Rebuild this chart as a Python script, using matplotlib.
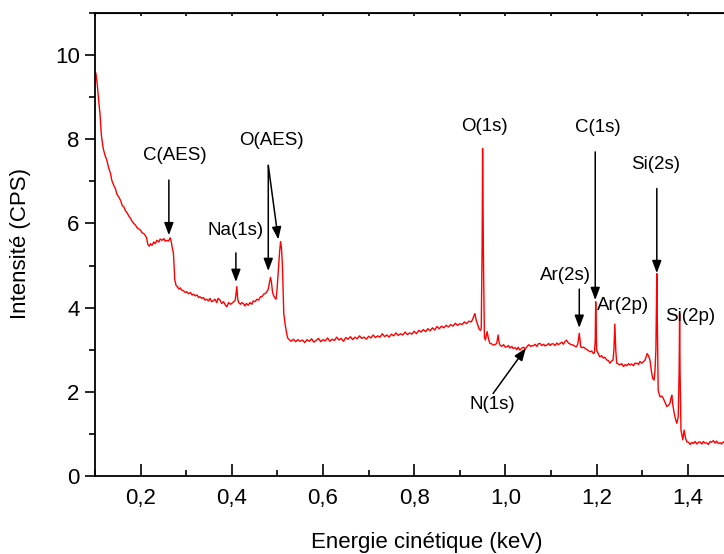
import matplotlib
matplotlib.use("Agg")
import matplotlib.pyplot as plt
from matplotlib.ticker import MultipleLocator

plt.rcParams['font.family'] = ['Liberation Sans', 'DejaVu Sans']

# spectre (keV, CPS)
energie = [
    0.102, 0.105, 0.108, 0.111, 0.114, 0.117, 0.119, 0.122, 0.126, 0.130,
    0.134, 0.137, 0.141, 0.145, 0.148, 0.152, 0.156, 0.160, 0.163, 0.167,
    0.170, 0.174, 0.178, 0.181, 0.185, 0.189, 0.192, 0.196, 0.200, 0.203,
    0.207, 0.210, 0.213, 0.216, 0.219, 0.222, 0.225, 0.229, 0.232, 0.236,
    0.240, 0.243, 0.247, 0.251, 0.254, 0.258, 0.261, 0.265, 0.267, 0.269,
    0.272, 0.275, 0.278, 0.281, 0.284, 0.287, 0.290, 0.294, 0.298, 0.301,
    0.305, 0.309, 0.313, 0.316, 0.320, 0.324, 0.327, 0.330, 0.334, 0.338,
    0.341, 0.345, 0.349, 0.352, 0.356, 0.359, 0.363, 0.367, 0.370, 0.374,
    0.378, 0.382, 0.386, 0.389, 0.393, 0.397, 0.400, 0.404, 0.407, 0.409,
    0.411, 0.413, 0.415, 0.419, 0.422, 0.425, 0.429, 0.432, 0.436, 0.440,
    0.444, 0.447, 0.451, 0.455, 0.459, 0.463, 0.466, 0.470, 0.474, 0.477,
    0.480, 0.483, 0.485, 0.487, 0.489, 0.491, 0.494, 0.497, 0.499, 0.502,
    0.505, 0.507, 0.509, 0.511, 0.512, 0.514, 0.517, 0.519, 0.521, 0.523,
    0.526, 0.530, 0.535, 0.540, 0.545, 0.550, 0.555, 0.560, 0.565, 0.570,
    0.575, 0.580, 0.585, 0.590, 0.595, 0.600, 0.605, 0.610, 0.615, 0.620,
    0.625, 0.630, 0.635, 0.640, 0.645, 0.650, 0.655, 0.660, 0.665, 0.670,
    0.675, 0.680, 0.685, 0.690, 0.695, 0.700, 0.705, 0.710, 0.715, 0.720,
    0.725, 0.730, 0.735, 0.740, 0.745, 0.750, 0.755, 0.760, 0.765, 0.770,
    0.775, 0.780, 0.785, 0.790, 0.795, 0.800, 0.805, 0.810, 0.815, 0.820,
    0.825, 0.830, 0.835, 0.840, 0.845, 0.850, 0.855, 0.860, 0.865, 0.870,
    0.875, 0.880, 0.885, 0.890, 0.895, 0.900, 0.905, 0.910, 0.915, 0.920,
    0.925, 0.928, 0.931, 0.933, 0.936, 0.939, 0.942, 0.945, 0.947, 0.949,
    0.950, 0.952, 0.954, 0.956, 0.960, 0.963, 0.966, 0.970, 0.973, 0.977,
    0.981, 0.984, 0.986, 0.988, 0.992, 0.996, 1.000, 1.003, 1.007, 1.010,
    1.014, 1.017, 1.021, 1.025, 1.028, 1.032, 1.036, 1.040, 1.044, 1.047,
    1.051, 1.055, 1.058, 1.061, 1.065, 1.069, 1.072, 1.076, 1.080, 1.084,
    1.087, 1.091, 1.095, 1.098, 1.102, 1.105, 1.109, 1.113, 1.116, 1.120,
    1.124, 1.127, 1.131, 1.134, 1.138, 1.141, 1.145, 1.149, 1.153, 1.156,
    1.159, 1.161, 1.162, 1.164, 1.165, 1.168, 1.172, 1.175, 1.179, 1.182,
    1.186, 1.189, 1.193, 1.195, 1.197, 1.198, 1.199, 1.200, 1.204, 1.207,
    1.211, 1.215, 1.218, 1.222, 1.226, 1.229, 1.232, 1.236, 1.238, 1.240,
    1.242, 1.244, 1.248, 1.251, 1.255, 1.259, 1.263, 1.266, 1.270, 1.273,
    1.277, 1.281, 1.284, 1.288, 1.292, 1.295, 1.299, 1.302, 1.306, 1.309,
    1.311, 1.314, 1.317, 1.320, 1.323, 1.326, 1.328, 1.330, 1.331, 1.332,
    1.333, 1.335, 1.339, 1.343, 1.346, 1.350, 1.354, 1.358, 1.361, 1.363,
    1.365, 1.367, 1.370, 1.373, 1.376, 1.379, 1.381, 1.382, 1.383, 1.385,
    1.389, 1.392, 1.395, 1.398, 1.402, 1.405, 1.409, 1.412, 1.416, 1.420,
    1.423, 1.427, 1.431, 1.434, 1.438, 1.441, 1.445, 1.449, 1.452, 1.456,
    1.460, 1.463, 1.467, 1.471, 1.474, 1.478, 1.482,
]
intensite = [
    9.57, 9.30, 8.93, 8.60, 8.10, 7.85, 7.74, 7.62, 7.50, 7.32,
    7.19, 7.02, 6.91, 6.82, 6.70, 6.63, 6.55, 6.42, 6.40, 6.30,
    6.26, 6.18, 6.12, 6.06, 6.00, 5.96, 5.90, 5.87, 5.84, 5.78,
    5.76, 5.72, 5.66, 5.50, 5.46, 5.52, 5.48, 5.56, 5.52, 5.60,
    5.56, 5.63, 5.60, 5.64, 5.58, 5.60, 5.58, 5.66, 5.58, 5.45,
    5.29, 4.66, 4.52, 4.50, 4.44, 4.47, 4.42, 4.40, 4.36, 4.38,
    4.33, 4.36, 4.30, 4.32, 4.28, 4.30, 4.24, 4.26, 4.22, 4.24,
    4.18, 4.20, 4.16, 4.22, 4.14, 4.16, 4.20, 4.12, 4.22, 4.18,
    4.10, 4.14, 4.06, 4.02, 4.12, 4.08, 4.10, 4.14, 4.16, 4.30,
    4.50, 4.20, 4.12, 4.08, 4.12, 4.10, 4.04, 4.10, 4.06, 4.12,
    4.08, 4.16, 4.14, 4.20, 4.18, 4.26, 4.26, 4.32, 4.34, 4.38,
    4.44, 4.62, 4.72, 4.60, 4.40, 4.30, 4.24, 4.20, 4.40, 4.89,
    5.35, 5.57, 5.40, 5.00, 4.60, 3.86, 3.60, 3.47, 3.35, 3.27,
    3.24, 3.20, 3.25, 3.19, 3.24, 3.20, 3.23, 3.17, 3.24, 3.20,
    3.26, 3.18, 3.22, 3.27, 3.19, 3.24, 3.21, 3.28, 3.20, 3.25,
    3.22, 3.30, 3.23, 3.27, 3.20, 3.29, 3.25, 3.31, 3.24, 3.30,
    3.26, 3.33, 3.27, 3.30, 3.25, 3.32, 3.28, 3.35, 3.29, 3.33,
    3.30, 3.38, 3.31, 3.35, 3.30, 3.37, 3.33, 3.40, 3.34, 3.38,
    3.35, 3.42, 3.36, 3.40, 3.37, 3.44, 3.38, 3.46, 3.42, 3.48,
    3.43, 3.50, 3.45, 3.52, 3.47, 3.55, 3.50, 3.56, 3.52, 3.58,
    3.54, 3.60, 3.56, 3.63, 3.58, 3.62, 3.60, 3.66, 3.62, 3.68,
    3.66, 3.72, 3.80, 3.86, 3.70, 3.60, 3.50, 3.46, 3.50, 5.50,
    7.78, 5.00, 3.30, 3.23, 3.43, 3.25, 3.15, 3.14, 3.11, 3.12,
    3.15, 3.35, 3.18, 3.11, 3.08, 3.12, 3.06, 3.07, 3.10, 3.04,
    3.08, 3.03, 3.05, 3.00, 3.06, 2.99, 3.04, 3.06, 3.02, 3.07,
    3.12, 3.08, 3.10, 3.09, 3.13, 3.08, 3.14, 3.15, 3.10, 3.13,
    3.09, 3.11, 3.15, 3.10, 3.14, 3.14, 3.10, 3.16, 3.12, 3.15,
    3.18, 3.13, 3.20, 3.23, 3.16, 3.14, 3.12, 3.11, 3.08, 3.07,
    3.15, 3.30, 3.39, 3.20, 3.07, 3.05, 3.06, 3.03, 3.00, 2.98,
    2.95, 2.97, 2.91, 2.92, 3.20, 4.14, 3.60, 2.99, 2.90, 2.83,
    2.86, 2.80, 2.82, 2.76, 2.74, 2.68, 2.72, 2.76, 3.00, 3.61,
    3.00, 2.68, 2.66, 2.64, 2.67, 2.60, 2.65, 2.62, 2.67, 2.64,
    2.66, 2.62, 2.68, 2.68, 2.65, 2.72, 2.68, 2.71, 2.75, 2.85,
    2.91, 2.85, 2.76, 2.50, 2.32, 2.28, 2.50, 2.99, 4.00, 4.81,
    3.80, 2.04, 1.88, 1.90, 1.85, 1.75, 1.65, 1.68, 1.73, 1.85,
    1.92, 1.70, 1.50, 1.35, 1.25, 1.41, 2.50, 3.86, 2.50, 1.09,
    0.86, 1.09, 0.90, 0.81, 0.80, 0.75, 0.80, 0.77, 0.82, 0.76,
    0.80, 0.81, 0.76, 0.82, 0.78, 0.79, 0.75, 0.82, 0.80, 0.84,
    0.78, 0.83, 0.77, 0.79, 0.76, 0.81, 0.78,
]

x_ticks = [0.2, 0.4, 0.6, 0.8, 1.0, 1.2, 1.4]
x_labels = ['0,2', '0,4', '0,6', '0,8', '1,0', '1,2', '1,4']
y_ticks = [0, 2, 4, 6, 8, 10]

fig = plt.figure(figsize=(7.24, 5.54), dpi=100)
# l'axe depasse a droite comme sur l'original (bord droit coupe)
ax = fig.add_axes([0.1312, 0.1408, 0.8818, 0.8357])
ax.plot(energie, intensite, color='red', lw=1.0)

ax.set_xlim(0.1, 1.5)
ax.set_ylim(0, 11)
ax.set_xticks(x_ticks)
ax.set_xticklabels(x_labels)
ax.set_yticks(y_ticks)
ax.xaxis.set_minor_locator(MultipleLocator(0.1))
ax.yaxis.set_minor_locator(MultipleLocator(1))
ax.tick_params(axis='x', which='major', direction='in', length=9, width=1.2,
               pad=9, labelsize=16)
ax.tick_params(axis='x', which='minor', direction='in', length=4.5, width=1.2)
ax.tick_params(axis='y', which='major', direction='out', length=7, width=1.2,
               pad=4, labelsize=16)
ax.tick_params(axis='y', which='minor', direction='out', length=4, width=1.2)
for s in ax.spines.values():
    s.set_linewidth(1.3)

top = ax.secondary_xaxis('top')
top.set_xticks(x_ticks)
top.xaxis.set_minor_locator(MultipleLocator(0.1))
top.tick_params(which='both', direction='in', length=2.5, width=1.2,
                labeltop=False)

ax.set_xlabel('Energie cinétique (keV)', fontsize=16)
ax.xaxis.set_label_coords(0.52, -0.12)
ax.set_ylabel('Intensité (CPS)', fontsize=16)
ax.yaxis.set_label_coords(-0.100, 0.502)

fleche = dict(arrowstyle='-|>,head_length=0.75,head_width=0.28',
              mutation_scale=10, color='black', lw=1.1,
              shrinkA=0, shrinkB=0)
fs = 13.5

ax.text(0.275, 7.62, 'C(AES)', fontsize=fs, ha='center', va='center')
ax.annotate('', xy=(0.262, 5.72), xytext=(0.262, 7.03), arrowprops=fleche)

ax.text(0.409, 5.84, 'Na(1s)', fontsize=fs, ha='center', va='center')
ax.annotate('', xy=(0.409, 4.61), xytext=(0.409, 5.30), arrowprops=fleche)

ax.text(0.488, 7.96, 'O(AES)', fontsize=fs, ha='center', va='center')
ax.annotate('', xy=(0.480, 4.87), xytext=(0.480, 7.38), arrowprops=fleche)
ax.annotate('', xy=(0.502, 5.62), xytext=(0.480, 7.38), arrowprops=fleche)

ax.text(0.955, 8.31, 'O(1s)', fontsize=fs, ha='center', va='center')

ax.text(1.203, 8.27, 'C(1s)', fontsize=fs, ha='center', va='center')
ax.annotate('', xy=(1.197, 4.18), xytext=(1.197, 7.70), arrowprops=fleche)

ax.text(1.330, 7.41, 'Si(2s)', fontsize=fs, ha='center', va='center')
ax.annotate('', xy=(1.332, 4.82), xytext=(1.332, 6.83), arrowprops=fleche)

ax.text(1.131, 4.77, 'Ar(2s)', fontsize=fs, ha='center', va='center')
ax.annotate('', xy=(1.162, 3.52), xytext=(1.162, 4.44), arrowprops=fleche)

ax.text(1.258, 4.04, 'Ar(2p)', fontsize=fs, ha='center', va='center')
ax.text(1.405, 3.78, 'Si(2p)', fontsize=fs, ha='center', va='center')

ax.text(0.971, 1.69, 'N(1s)', fontsize=fs, ha='center', va='center')
ax.annotate('', xy=(1.045, 3.04), xytext=(0.973, 1.96), arrowprops=fleche)

fig.savefig('out.png', dpi=100)
